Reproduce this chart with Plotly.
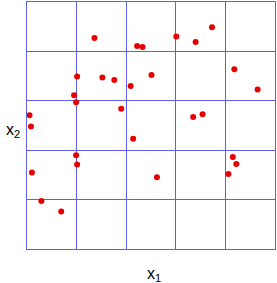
import plotly.graph_objects as go

x1 = [1.36, 2.22, 2.33, 1.01, 1.52, 1.76, 2.09, 0.95, 0.99, 1.90, 0.05, 0.08, 2.14,
      3.01, 3.40, 3.73, 2.51, 4.18, 4.65, 3.35, 3.54,
      0.99, 1.01, 0.10, 0.29, 0.69, 2.62, 4.15, 4.22, 4.06]
x2 = [4.27, 4.11, 4.09, 3.49, 3.47, 3.42, 3.30, 3.11, 2.97, 2.84, 2.71, 2.48, 2.23,
      4.30, 4.19, 4.49, 3.52, 3.64, 3.23, 2.67, 2.73,
      1.90, 1.71, 1.55, 0.97, 0.76, 1.45, 1.86, 1.72, 1.52]

grid_color = "rgb(95,95,235)"

fig = go.Figure()
fig.add_trace(go.Scatter(x=x1, y=x2, mode="markers",
                         marker=dict(color="rgb(230,0,0)", size=6, line=dict(width=0)),
                         showlegend=False))

axis_common = dict(range=[0, 5], dtick=1, tick0=0, showgrid=True, gridcolor=grid_color,
                   gridwidth=1, showticklabels=False, ticks="", zeroline=False,
                   showline=True, linecolor=grid_color, linewidth=1, mirror=True,
                   fixedrange=True)
fig.update_xaxes(**axis_common)
fig.update_yaxes(**axis_common)

font = dict(family="Liberation Sans, Arial, sans-serif", size=16, color="black")
fig.add_annotation(text="x<sub>1</sub>", x=0.5, y=0, xref="paper", yref="paper",
                   xanchor="center", yanchor="top", showarrow=False, font=font,
                   xshift=3, yshift=-14)
fig.add_annotation(text="x<sub>2</sub>", x=0, y=0.5, xref="paper", yref="paper",
                   xanchor="right", yanchor="middle", showarrow=False, font=font,
                   xshift=-5, yshift=-5)

fig.update_layout(width=277, height=283,
                  margin=dict(l=27, r=2, t=2, b=34),
                  plot_bgcolor="white", paper_bgcolor="white")

fig.write_html("out.html", config={"displayModeBar": False},
               post_script="document.body.style.margin='0';document.body.style.overflow='hidden';")
